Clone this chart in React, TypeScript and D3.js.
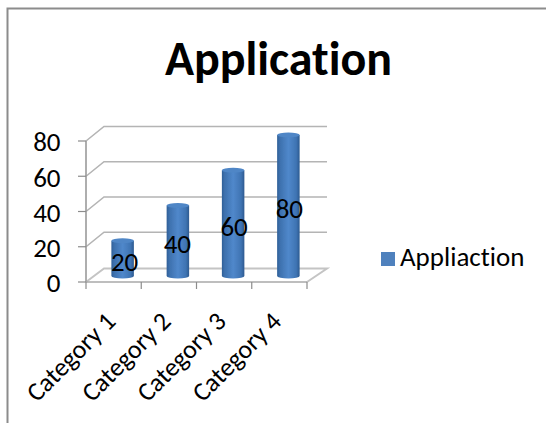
import React from "react";
import * as d3 from "d3";

const categories = ["Category 1", "Category 2", "Category 3", "Category 4"];
const values = [20, 40, 60, 80];
const yTicks = [0, 20, 40, 60, 80];
const title = "Application";
const seriesName = "Appliaction";

const W = 546, H = 423;
const FONT = "Carlito, Calibri, Lato, 'Open Sans', sans-serif";
const x = d3.scaleBand<string>().domain(categories).range([86, 307]);
const y = d3.scaleLinear().domain([0, 80]).range([282, 141]);
const dx = 18, dy = -14.5;
const grey = "#b4b4b4";
const labelOffsets = [4, 1.5, 3, 3];

export default function App() {
  const bw = 22.5;
  return (
    <svg width={W} height={H} style={{ position: "absolute", left: 0, top: 0, fontVariantLigatures: "none" }} fontFamily={FONT}>
      <defs>
        <linearGradient id="cyl" x1="0" x2="1" y1="0" y2="0">
          <stop offset="0" stopColor="#2f5f97" />
          <stop offset="0.12" stopColor="#3d70ad" />
          <stop offset="0.5" stopColor="#5088cb" />
          <stop offset="0.85" stopColor="#3f74b3" />
          <stop offset="1" stopColor="#2d5a90" />
        </linearGradient>
        <filter id="soft" x="-20%" y="-20%" width="140%" height="140%">
          <feGaussianBlur stdDeviation="0.5" />
        </filter>
      </defs>
      <rect x={0} y={0} width={W} height={H} fill="#fff" />
      <path d={`M7.5 ${H}V8.5H${W}`} fill="none" stroke="#8c8c8c" strokeWidth={2} />
      <text x={278.5} y={75} textAnchor="middle" fontSize={48} fontWeight={700} fill="#000">{title}</text>

      {/* floor */}
      <path d={`M${x.range()[0]} ${y(0)}L${x.range()[0] + dx} ${y(0) + dy + 1}H${x.range()[1] + 20}L${x.range()[1]} ${y(0)}`}
        fill="none" stroke="#c4c4c4" strokeWidth={2} />
      {/* walls */}
      {yTicks.slice(1).map(t => (
        <path key={t} d={`M${x.range()[0]} ${y(t)}L${x.range()[0] + dx} ${y(t) + dy}H327`} fill="none" stroke={grey} strokeWidth={1.6} />
      ))}
      {/* axes */}
      <line x1={86} x2={86} y1={y(80)} y2={y(0)} stroke="#9a9a9a" strokeWidth={1.6} />
      <line x1={86} x2={307} y1={y(0)} y2={y(0)} stroke="#a8a8a8" strokeWidth={1.6} />
      {yTicks.map(t => (
        <g key={t}>
          <line x1={78} x2={86} y1={y(t)} y2={y(t)} stroke="#8c8c8c" strokeWidth={1.2} />
          <text x={60.5} y={y(t) + 1} dy="0.35em" textAnchor="end" fontSize={27} fill="#000">{t}</text>
        </g>
      ))}
      {[...categories.map(c => x(c)!), 307].map((p, i) => (
        <line key={i} x1={p} x2={p} y1={y(0)} y2={y(0) + 7} stroke="#8c8c8c" strokeWidth={1.2} />
      ))}

      {/* cylinders */}
      {categories.map((c, i) => {
        const cx = x(c)! + x.bandwidth() / 2 + 9;
        const base = y(0) - 6;
        const top = y(values[i]) - 6;
        const r = bw / 2, ry = 2.5;
        return (
          <g key={c} filter="url(#soft)">
            <path d={`M${cx - r} ${top}V${base}A${r} ${ry} 0 0 0 ${cx + r} ${base}V${top}Z`} fill="url(#cyl)" />
            <ellipse cx={cx} cy={top} rx={r} ry={ry} fill="#4f86c6" />
          </g>
        );
      })}
      {categories.map((c, i) => {
        const cx = x(c)! + x.bandwidth() / 2 + 7 + labelOffsets[i];
        const ly = y(values[i] / 2) - 3;
        return <text key={c} x={cx} y={ly} dy="0.35em" textAnchor="middle" fontSize={27} fill="#000">{values[i]}</text>;
      })}

      {categories.map(c => {
        const cx = x(c)! + x.bandwidth() / 2 - 3;
        return (
          <text key={c} transform={`translate(${cx},${y(0) + 34.5}) rotate(-45)`} textAnchor="end" dy="0.35em" fontSize={26} fill="#000">{c}</text>
        );
      })}

      <rect x={381} y={252} width={14} height={14} fill="#4f81bd" />
      <text x={400} y={257} dy="0.35em" fontSize={27} fill="#000">{seriesName}</text>
    </svg>
  );
}
